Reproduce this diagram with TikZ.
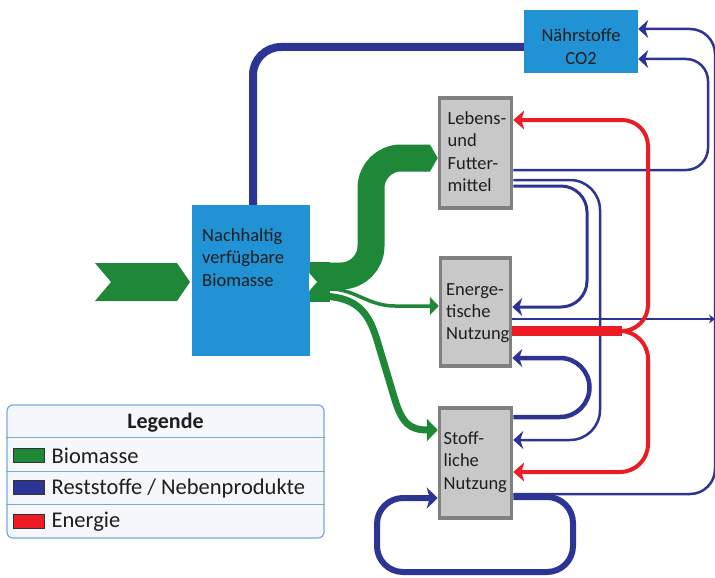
\documentclass[tikz,border=0pt]{standalone}
\usepackage{fontspec}
\setmainfont{Carlito}
\usetikzlibrary{arrows.meta}
\definecolor{dblue}{RGB}{44,52,148}
\definecolor{rred}{RGB}{236,28,36}
\definecolor{ggreen}{RGB}{30,136,56}
\definecolor{boxblue}{RGB}{33,146,212}
\definecolor{boxgray}{RGB}{200,200,200}
\definecolor{bordergray}{RGB}{128,128,128}
\definecolor{legborder}{RGB}{120,170,220}
\definecolor{legfill}{RGB}{246,247,251}
\definecolor{txt}{RGB}{30,30,30}
\begin{document}
\begin{tikzpicture}[x=1pt,y=-1pt,
  bluebox/.style={fill=boxblue, draw=none, inner sep=0pt},
  graybox/.style={fill=boxgray, draw=bordergray, line width=3.5pt, inner sep=0pt},
  boxtext/.style={inner sep=0pt, text=txt, text width=110pt, align=left, anchor=base west, font=\fontsize{18.5}{22.4}\selectfont},
  bl/.style={draw=dblue, line cap=butt},
  rd/.style={draw=rred},
  gr/.style={draw=ggreen},
  barrow/.style={-{Stealth[length=10pt,width=18pt,inset=3pt]}},
  rarrow/.style={-{Stealth[length=11pt,width=19pt,inset=3pt]}},
  legtext/.style={inner sep=0pt, anchor=base west, text=txt, font=\fontsize{22.5}{26}\selectfont},
  swatch/.style={draw=black!80, line width=0.8pt, minimum width=31pt, minimum height=14pt, inner sep=0pt},
  sepline/.style={draw=legborder, line width=1pt}
]
\useasboundingbox (0,0) rectangle (715,578);
\fill[white] (0,0) rectangle (715,578);
\clip (0,0) rectangle (715,578);

% boxes
\node[bluebox, minimum width=118pt, minimum height=151pt] (nach) at (251,280.5) {};
\node[bluebox, minimum width=114pt, minimum height=63pt] (naehr) at (581,41.5) {};
\node[graybox, minimum width=72pt, minimum height=110pt] (leb) at (475.5,153) {};
\node[graybox, minimum width=70pt, minimum height=108pt] (ener) at (475.5,312) {};
\node[graybox, minimum width=72pt, minimum height=110pt] (stoff) at (475.5,463) {};

\node[boxtext] (lebtext) at (447.5,124.5) {Lebens-\\und\\Futter-\\mittel};
\node[boxtext] (enertext) at (446,295) {Energe-\\tische\\Nutzung};
\node[boxtext] (stofftext) at (443.5,444.5) {Stoff-\\liche\\Nutzung};
\node[boxtext] (nachtext) at (202,241.5) {Nachhaltig\\verfügbare\\Biomasse};
\node[boxtext, align=center, anchor=base] (naehrtext) at (581,41.7) {Nährstoffe\\CO2};

% thick blue: Biomasse -> Naehrstoffe
\draw[bl, line width=8pt, rounded corners=28pt] (253,0 |- nach.north) -- (253,47) -- (naehr.west |- 0,47);

% Stoff -> Naehrstoffe (outer)
\draw[bl, line width=2.5pt, rounded corners=25pt, barrow] (stoff.east |- 0,494) -- (715,494) -- (715,29) -- (naehr.east |- 0,29);
% Lebens -> Naehrstoffe (inner)
\draw[bl, line width=2.5pt, rounded corners=22pt, barrow] (leb.east |- 0,170) -- (708,170) -- (708,59) -- (naehr.east |- 0,59);

% Energie -> right edge
\draw[bl, line width=1.5pt, -{Stealth[length=6pt,width=9pt]}] (ener.east |- 0,319) -- (715,319);

% Lebens -> Stoff
\draw[bl, line width=2.5pt, rounded corners=30pt, barrow] (leb.east |- 0,180) -- (600,180) -- (600,440) -- (stoff.east |- 0,440);
% Lebens -> Energe
\draw[bl, line width=3pt, rounded corners=26pt, barrow] (leb.east |- 0,186) -- (587,186) -- (587,307) -- (ener.east |- 0,307);

% red energy
\draw[rd, line width=10pt] (ener.east |- 0,331) -- (622,331);
\draw[rd, line width=4pt, rounded corners=26pt, rarrow] (ener.east |- 0,331) -- (648,331) -- (648,120) -- (leb.east |- 0,120);
\draw[rd, line width=4pt, rounded corners=28pt, rarrow] (ener.east |- 0,331) -- (648,331) -- (648,472) -- (stoff.east |- 0,472);

% Stoff -> Energe U
\draw[bl, line width=4.5pt, barrow] (stoff.east |- 0,417) -- (560,417) arc[start angle=-90, end angle=90, radius=29.5pt] -- (ener.east |- 0,358);

% bottom loop
\draw[bl, line width=6pt, rounded corners=26pt, -{Stealth[length=11pt,width=21pt,inset=3pt]}] (stoff.east |- 0,497) -- (573,497) -- (573,572) -- (377,572) -- (377,498) -- (stoff.west |- 0,498);

% green input chevron
\fill[ggreen] (95,263) -- (177,263) -- (190,282) -- (177,301) -- (95,301) -- (111,282) -- cycle;

% green flows
\fill[ggreen] (310,262) -- (330,262) -- (330,302) -- (310,302) -- cycle;
\draw[gr, line width=27pt, rounded corners=30pt] (nach.east |- 0,276) -- (371,276) -- (371,158) -- (426,158);
\fill[ggreen] (425,144.5) -- (430,144.5) -- (leb.west |- 0,158) -- (430,171.5) -- (425,171.5) -- cycle;
\draw[gr, line width=3.5pt, -{Triangle[length=9pt,width=18pt]}] (nach.east |- 0,289) -- (330,289) .. controls (355,289) and (368,306) .. (395,306) -- (ener.west |- 0,306);
\draw[gr, line width=7pt, -{Triangle[length=11pt,width=22pt]}] (nach.east |- 0,296) -- (318,296) .. controls (355,296) and (368,310) .. (377,340) -- (395,400) .. controls (402,423) and (410,430) .. (stoff.west |- 0,430);
\fill[white] (309,273) -- (317,282) -- (309,291) -- cycle;

% legend
\node[draw=legborder, fill=legfill, line width=1.2pt, rounded corners=6pt, minimum width=317pt, minimum height=133pt, inner sep=0pt] (leg) at (165.5,471.5) {};
\draw[sepline] (leg.west |- 0,437) -- (leg.east |- 0,437);
\draw[sepline] (leg.west |- 0,471) -- (leg.east |- 0,471);
\draw[sepline] (leg.west |- 0,504) -- (leg.east |- 0,504);
\node[inner sep=0pt, anchor=base, text=txt, font=\bfseries\fontsize{22}{26}\selectfont] (legtitle) at (165.5,428.3) {Legende};
\node[swatch, fill=ggreen] (swg) at (28.5,455) {};
\node[swatch, fill=dblue] (swb) at (28.5,487) {};
\node[swatch, fill=rred] (swr) at (28.5,521) {};
\node[legtext] (lg) at (51.5,463.3) {Biomasse};
\node[legtext] (lb) at (51.5,494.5) {Reststoffe / Nebenprodukte};
\node[legtext] (lr) at (51.5,527.3) {Energie};
\end{tikzpicture}
\end{document}
